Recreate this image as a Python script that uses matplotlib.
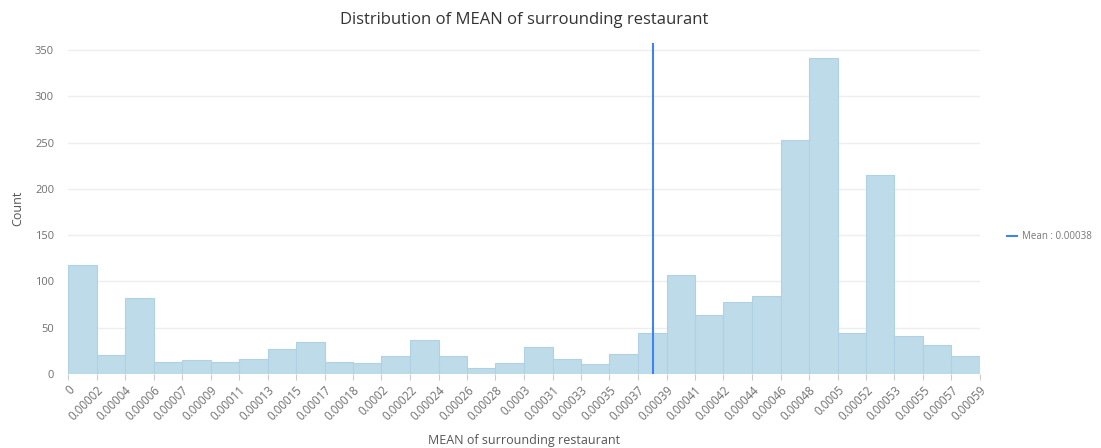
import numpy as np
import matplotlib
matplotlib.use("Agg")
import matplotlib.pyplot as plt

plt.rcParams['font.family'] = ['Open Sans', 'DejaVu Sans']

# histogram data
bin_width = 0.0000184
counts = [118, 20, 82, 13, 15, 13, 16, 27, 35, 13, 12, 19,
          37, 19, 7, 12, 29, 16, 11, 22, 44, 107, 64, 78,
          84, 253, 341, 44, 215, 41, 31, 19]
tick_labels = ['0', '0.00002', '0.00004', '0.00006', '0.00007', '0.00009',
               '0.00011', '0.00013', '0.00015', '0.00017', '0.00018', '0.0002',
               '0.00022', '0.00024', '0.00026', '0.00028', '0.0003', '0.00031',
               '0.00033', '0.00035', '0.00037', '0.00039', '0.00041', '0.00042',
               '0.00044', '0.00046', '0.00048', '0.0005', '0.00052', '0.00053',
               '0.00055', '0.00057', '0.00059']
mean_value = 0.000378
mean_label = 'Mean : 0.00038'

edges = np.arange(len(counts) + 1) * bin_width

fig = plt.figure(figsize=(11.01, 4.48), dpi=100)
ax = fig.add_axes([68/1101, 74/448, 912/1101, 331/448])

ax.bar(edges[:-1], counts, width=bin_width, align='edge',
       color='#bedbe9', edgecolor='#afd1e3', linewidth=0.8, zorder=2)
ax.axvline(mean_value, color='#3f82f0', linewidth=1.5, zorder=3, label=mean_label)

ax.set_xlim(0, edges[-1])
ax.set_ylim(0, 357.5)
ax.set_yticks(np.arange(0, 351, 50))
ax.set_xticks(edges)
ax.set_xticklabels(tick_labels, rotation=45, ha='right', va='top',
                   rotation_mode='anchor')

ax.grid(axis='y', color='#eeeeee', linewidth=1, zorder=0)
ax.set_axisbelow(True)
for s in ['top', 'right', 'left', 'bottom']:
    ax.spines[s].set_visible(False)
ax.tick_params(axis='x', colors='#cccccc', labelcolor='#707070', labelsize=8.3,
               length=4, width=0.8, pad=3)
ax.tick_params(axis='y', length=0, labelcolor='#707070', labelsize=8, pad=10)

ax.set_title('Distribution of MEAN of surrounding restaurant', fontsize=12,
             color='#333333', pad=14)
ax.set_xlabel('MEAN of surrounding restaurant', fontsize=9, color='#555555', labelpad=8)
ax.set_ylabel('Count', fontsize=9, color='#555555', labelpad=8)

ax.legend(loc='center left', bbox_to_anchor=(1.02, 0.414), frameon=False,
          handlelength=1.0, handletextpad=0.5, fontsize=7, labelcolor='#777777')

plt.savefig('out.png', dpi=100)
